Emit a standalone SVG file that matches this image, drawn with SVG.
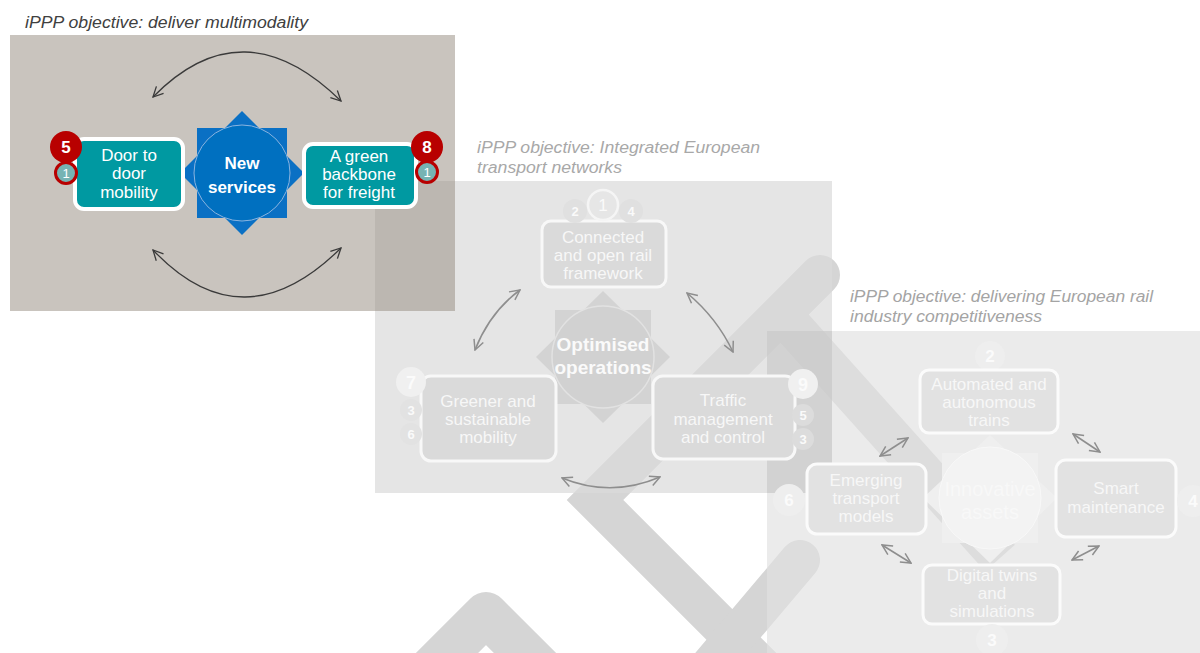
<svg xmlns="http://www.w3.org/2000/svg" width="1200" height="653" viewBox="0 0 1200 653">
<defs>
<style>
.t{font-family:"Liberation Sans",Arial,sans-serif}
.title{font-style:italic;font-size:16px}
.teal{fill:#0099a1;stroke:#ffffff;stroke-width:4}
.wt{fill:#ffffff;font-size:17px;text-anchor:middle}
.mbox{fill:#dadada;stroke:#f8f8f8;stroke-width:3}
.rbox{fill:#e2e2e2;stroke:#fbfbfb;stroke-width:3}
.ft{fill:#f7f7f7;font-size:17px;text-anchor:middle}
.arcd{fill:none;stroke:#3a3a3a;stroke-width:1.3;marker-start:url(#ad);marker-end:url(#ad)}
.arcg{fill:none;stroke:#8e8e8e;stroke-width:1.6;marker-start:url(#ag);marker-end:url(#ag)}
.band{fill:none;stroke:#d5d5d5}
</style>
<marker id="ad" viewBox="0 0 12 12" refX="11" refY="6" markerWidth="12" markerHeight="12" markerUnits="userSpaceOnUse" orient="auto-start-reverse"><path d="M1,1 L11,6 L1,11" fill="none" stroke="#3a3a3a" stroke-width="1.3"/></marker>
<marker id="ag" viewBox="0 0 12 12" refX="11" refY="6" markerWidth="12" markerHeight="12" markerUnits="userSpaceOnUse" orient="auto-start-reverse"><path d="M1,1 L11,6 L1,11" fill="none" stroke="#8e8e8e" stroke-width="1.5"/></marker>
</defs>
<rect width="1200" height="653" fill="#ffffff"/>

<g id="background-bands">
<polyline class="band" points="820,275 595,500 820,725" stroke-width="40" stroke-linecap="round" stroke-linejoin="miter"/>
<line class="band" x1="800" y1="560" x2="680" y2="702" stroke-width="40" stroke-linecap="round"/>
<polyline class="band" points="418,682 486,614 570,698" stroke-width="44" stroke-linecap="round" stroke-linejoin="round"/>
<line class="band" x1="785" y1="318" x2="1000" y2="558" stroke-width="40" stroke-linecap="butt"/>
</g>

<g id="panels">
<rect x="375" y="181" width="457" height="312" fill="#dbdbdb" fill-opacity="0.71"/>
<rect x="767" y="331" width="433" height="322" fill="#e0e0e0" fill-opacity="0.66"/>
<rect x="767" y="331" width="65" height="162" fill="#000000" fill-opacity="0.07"/>
<rect x="10" y="35" width="445" height="276" fill="rgb(147,137,125)" fill-opacity="0.5"/>
</g>

<g id="titles" class="t">
<text class="title" x="25" y="28" fill="#404040" textLength="283" lengthAdjust="spacingAndGlyphs">iPPP objective: deliver multimodality</text>
<text class="title" x="477" y="153" fill="#a8a8a8" font-size="17" textLength="283" lengthAdjust="spacingAndGlyphs">iPPP objective: Integrated European</text>
<text class="title" x="477" y="173" fill="#a8a8a8" font-size="17" textLength="145" lengthAdjust="spacingAndGlyphs">transport networks</text>
<text class="title" x="850" y="302" fill="#a4a4a4" font-size="17" textLength="303" lengthAdjust="spacingAndGlyphs">iPPP objective: delivering European rail</text>
<text class="title" x="850" y="322" fill="#a4a4a4" font-size="17" textLength="192" lengthAdjust="spacingAndGlyphs">industry competitiveness</text>
</g>

<g id="connectors">
<path class="arcd" d="M153,97 Q243,5 341,101"/>
<path class="arcd" d="M153,250 Q243,345 341,248"/>
<path class="arcg" d="M475,350 Q490,312 520,290"/>
<path class="arcg" d="M687,293 Q717,318 733,352"/>
<path class="arcg" d="M562,478 Q611,498 660,477"/>
<line class="arcg" x1="880" y1="456" x2="908" y2="438"/>
<line class="arcg" x1="1073" y1="434" x2="1100" y2="452"/>
<line class="arcg" x1="882" y1="545" x2="911" y2="563"/>
<line class="arcg" x1="1099" y1="546" x2="1072" y2="560"/>
</g>

<g id="new-services" class="t">
<rect x="197" y="128" width="90" height="90" fill="#0a70c4"/>
<polygon points="242,111 304,173 242,235 180,173" fill="#0a70c4"/>
<circle cx="242" cy="173" r="48" fill="#0070c0" stroke="#8ab4e0" stroke-width="1"/>
<text class="wt" x="242" y="169" font-size="19" font-weight="bold">New</text>
<text class="wt" x="242" y="193" font-size="19" font-weight="bold">services</text>
</g>

<g id="door-to-door" class="t">
<rect class="teal" x="75" y="139" width="108" height="70" rx="9"/>
<text class="wt" x="129" y="161">Door to</text>
<text class="wt" x="129" y="179">door</text>
<text class="wt" x="129" y="198">mobility</text>
<circle cx="66" cy="147" r="16" fill="#b80000"/>
<text x="66" y="153" fill="#ffffff" font-size="17" font-weight="bold" text-anchor="middle">5</text>
<circle cx="66" cy="173" r="10.5" fill="#76b3b3" stroke="#b80000" stroke-width="3"/>
<text x="66" y="178" fill="#ffffff" font-size="13" text-anchor="middle">1</text>
</g>

<g id="green-backbone" class="t">
<rect class="teal" x="304" y="144" width="112" height="63" rx="9"/>
<text class="wt" x="359" y="162">A green</text>
<text class="wt" x="359" y="180">backbone</text>
<text class="wt" x="359" y="198">for freight</text>
<circle cx="427" cy="147" r="16" fill="#b80000"/>
<text x="427" y="153" fill="#ffffff" font-size="17" font-weight="bold" text-anchor="middle">8</text>
<circle cx="427" cy="172" r="10.5" fill="#76b3b3" stroke="#b80000" stroke-width="3"/>
<text x="427" y="177" fill="#ffffff" font-size="13" text-anchor="middle">1</text>
</g>

<g id="optimised-operations" class="t">
<rect x="555" y="310" width="96" height="94" fill="#d3d3d3"/>
<polygon points="603,291 670,357 603,423 536,357" fill="#d3d3d3"/>
<circle cx="603" cy="357" r="51" fill="#d1d1d1" stroke="#e2e2e2" stroke-width="1.5"/>
<text x="603" y="351" fill="#fafafa" font-size="19" font-weight="bold" text-anchor="middle">Optimised</text>
<text x="603" y="374" fill="#fafafa" font-size="19" font-weight="bold" text-anchor="middle">operations</text>
</g>

<g id="connected-rail" class="t">
<rect class="mbox" x="542" y="221" width="124" height="66" rx="9"/>
<text class="ft" x="603" y="243">Connected</text>
<text class="ft" x="603" y="261">and open rail</text>
<text class="ft" x="603" y="279">framework</text>
<circle cx="575" cy="211" r="12" fill="#e0e0e0"/>
<text x="575" y="216" fill="#fafafa" font-size="13" font-weight="bold" text-anchor="middle">2</text>
<circle cx="631" cy="211" r="12" fill="#e0e0e0"/>
<text x="631" y="216" fill="#fafafa" font-size="13" font-weight="bold" text-anchor="middle">4</text>
<circle cx="603" cy="205" r="15" fill="#e6e6e6" stroke="#f5f5f5" stroke-width="2.5"/>
<text x="603" y="211" fill="#fafafa" font-size="17" text-anchor="middle">1</text>
</g>

<g id="greener-mobility" class="t">
<rect class="mbox" x="421" y="376" width="135" height="85" rx="10"/>
<text class="ft" x="488" y="407">Greener and</text>
<text class="ft" x="488" y="425">sustainable</text>
<text class="ft" x="488" y="443">mobility</text>
<circle cx="411" cy="382" r="15" fill="#f0f0f0"/>
<text x="411" y="389" fill="#fbfbfb" font-size="18" font-weight="bold" text-anchor="middle">7</text>
<circle cx="411" cy="410" r="11" fill="#e2e2e2"/>
<text x="411" y="415" fill="#fafafa" font-size="13" font-weight="bold" text-anchor="middle">3</text>
<circle cx="411" cy="434" r="11" fill="#e2e2e2"/>
<text x="411" y="439" fill="#fafafa" font-size="13" font-weight="bold" text-anchor="middle">6</text>
</g>

<g id="traffic-management" class="t">
<rect class="mbox" x="653" y="376" width="142" height="83" rx="10"/>
<text class="ft" x="723" y="406">Traffic</text>
<text class="ft" x="723" y="425">management</text>
<text class="ft" x="723" y="443">and control</text>
<circle cx="803" cy="384" r="15" fill="#f0f0f0"/>
<text x="803" y="391" fill="#fbfbfb" font-size="18" font-weight="bold" text-anchor="middle">9</text>
<circle cx="803" cy="415" r="11" fill="#dcdcdc"/>
<text x="803" y="420" fill="#fafafa" font-size="13" font-weight="bold" text-anchor="middle">5</text>
<circle cx="803" cy="439" r="11" fill="#dcdcdc"/>
<text x="803" y="444" fill="#fafafa" font-size="13" font-weight="bold" text-anchor="middle">3</text>
</g>

<g id="innovative-assets" class="t">
<rect x="942" y="453" width="96" height="90" fill="#efefef"/>
<polygon points="990,435 1057,498 990,563 923,498" fill="#efefef"/>
<circle cx="990" cy="498" r="51" fill="#f3f3f3" stroke="#f8f8f8" stroke-width="1"/>
<text x="990" y="496" fill="#f8f8f8" font-size="20" text-anchor="middle">Innovative</text>
<text x="990" y="519" fill="#f8f8f8" font-size="20" text-anchor="middle">assets</text>
</g>

<g id="automated-trains" class="t">
<circle cx="990" cy="356" r="15" fill="#eeeeee"/>
<text x="990" y="362" fill="#fbfbfb" font-size="17" font-weight="bold" text-anchor="middle">2</text>
<rect class="rbox" x="920" y="370" width="138" height="63" rx="9"/>
<text class="ft" x="989" y="390">Automated and</text>
<text class="ft" x="989" y="408">autonomous</text>
<text class="ft" x="989" y="426">trains</text>
</g>

<g id="smart-maintenance" class="t">
<rect class="rbox" x="1056" y="460" width="120" height="77" rx="10"/>
<text class="ft" x="1116" y="494">Smart</text>
<text class="ft" x="1116" y="513">maintenance</text>
<circle cx="1193" cy="501" r="16" fill="#eeeeee"/>
<text x="1193" y="507" fill="#fbfbfb" font-size="17" font-weight="bold" text-anchor="middle">4</text>
</g>

<g id="digital-twins" class="t">
<rect class="rbox" x="923" y="565" width="137" height="59" rx="9"/>
<text class="ft" x="992" y="581">Digital twins</text>
<text class="ft" x="992" y="599">and</text>
<text class="ft" x="992" y="617">simulations</text>
<circle cx="992" cy="640" r="16" fill="#eeeeee"/>
<text x="992" y="646" fill="#fbfbfb" font-size="17" font-weight="bold" text-anchor="middle">3</text>
</g>

<g id="emerging-models" class="t">
<rect class="rbox" x="807" y="464" width="119" height="70" rx="10"/>
<text class="ft" x="866" y="486">Emerging</text>
<text class="ft" x="866" y="504">transport</text>
<text class="ft" x="866" y="522">models</text>
<circle cx="789" cy="500" r="16" fill="#eeeeee"/>
<text x="789" y="506" fill="#fbfbfb" font-size="17" font-weight="bold" text-anchor="middle">6</text>
</g>
</svg>
